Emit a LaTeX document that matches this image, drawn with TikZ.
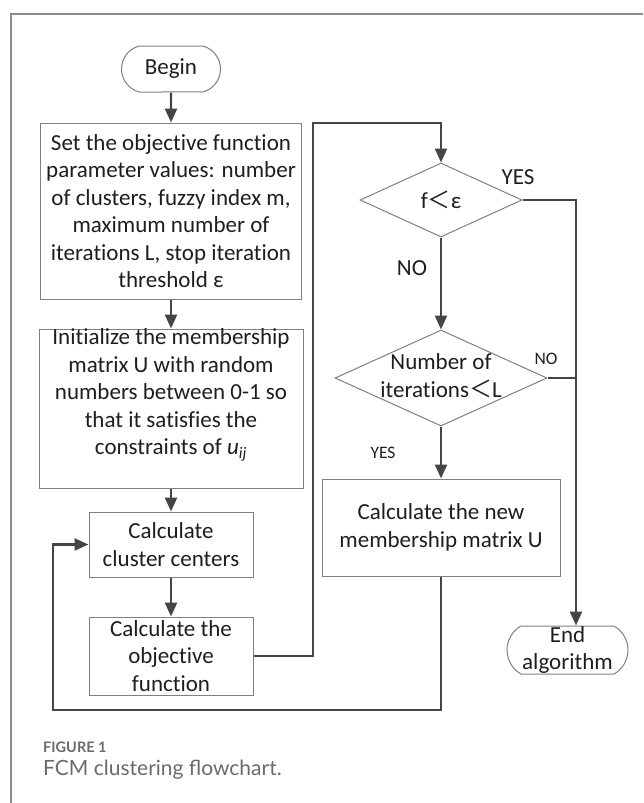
\documentclass[tikz,border=0pt]{standalone}
\usepackage{fontspec}
\setmainfont{Carlito}[Ligatures=NoCommon]
\newfontfamily\cjk{Noto Sans CJK SC}
\newfontfamily\capfont{Lato}
\usetikzlibrary{shapes.geometric,shapes.misc,arrows.meta,calc}

\definecolor{boxgrey}{HTML}{7F7F7F}
\definecolor{conngrey}{HTML}{454545}
\definecolor{framegrey}{HTML}{8C8C8C}
\definecolor{inkblack}{HTML}{1E1E1E}
\definecolor{capgrey}{HTML}{6A6A6A}

\begin{document}
\begin{tikzpicture}[x=1pt,y=-1pt,
  bodytext/.style={font=\fontsize{23}{27.5}\selectfont, text=inkblack, align=center, inner sep=0pt},
  box/.style={bodytext, draw=boxgrey, line width=1pt, rectangle},
  terminal/.style={bodytext, draw=boxgrey, line width=1pt, rounded rectangle},
  decision/.style={draw=boxgrey, line width=1pt, diamond, inner sep=0pt},
  conn/.style={draw=conngrey, line width=2.4pt},
  arr/.style={conn, -{Triangle[length=14pt,width=12pt]}},
  biglabel/.style={font=\fontsize{23}{27}\selectfont, text=inkblack, inner sep=0pt},
  smalllabel/.style={font=\fontsize{17.5}{21}\selectfont, text=inkblack, inner sep=0pt}
]
\useasboundingbox (0,0) rectangle (643,803);

% panel frame
\draw[framegrey, line width=1.5pt] (11,803) -- (11,14) -- (643,14);

% left column
\node[terminal, rounded rectangle arc length=150, minimum width=99pt, minimum height=46pt] (begin) at (171,69) {Begin};
\node[box, minimum width=261pt, minimum height=176pt] (setpar) at (171,211)
  {Set the objective function\\ parameter values: number\\ of clusters, fuzzy index m,\\ maximum number of\\ iterations L, stop iteration\\ threshold ε};
\node[box, minimum width=264pt, minimum height=159pt] (init) at (171,408.5) {};
\node[bodytext] (inittext) at (171,395)
  {Initialize the membership\\ matrix U with random\\ numbers between 0-1 so\\ that it satisfies the\\ constraints of {\itshape u}\textsubscript{\itshape ij}};
\node[box, minimum width=164pt, minimum height=65pt] (centers) at (171,544.5) {Calculate\\ cluster centers};
\node[box, minimum width=164pt, minimum height=78pt] (objfun) at (171,656) {};
\node[bodytext] (objtext) at (171,656) {Calculate the\\ objective\\ function};

% right column
\node[decision, minimum width=162pt, minimum height=74pt] (conv) at (441,200) {};
\node[bodytext] (convtext) at (441,200) {f{\cjk ＜}ε};
\node[decision, minimum width=212pt, minimum height=96pt] (iter) at (441,378) {};
\node[bodytext, font=\fontsize{23}{28}\selectfont] (itertext) at (441,376) {Number of\\ iterations{\cjk ＜}L};
\node[box, minimum width=238pt, minimum height=97pt] (update) at (441,527.5) {Calculate the new\\ membership matrix U};
\node[terminal, rounded rectangle arc length=120, minimum width=121pt, minimum height=48pt] (finish) at (567.5,650) {};
\node[bodytext] (finishtext) at (567.5,650) {End\\ algorithm};

% connector waypoints
\coordinate (upturn) at (313,123);
\coordinate (loopcorner) at (53,710);
\coordinate (endin) at ($(finish.north)+(8.5,0)$);

% main flow
\draw[arr] (begin) -- (setpar);
\draw[arr] (setpar) -- (init);
\draw[arr] (init) -- (centers);
\draw[arr] (centers) -- (objfun);
\draw[arr] (objfun.east) -| (upturn) -| (conv.north);
\draw[arr] (conv.south) -- (iter.north);
\draw[arr] (iter.south) -- (update.north);
\draw[arr] (update.south) |- (loopcorner) |- (centers.west);
\draw[arr] (conv.east) -| (endin);
\draw[conn] (iter.east) -- (iter.east -| endin);

% branch labels
\node[biglabel] (yesconv) at (518,177) {YES};
\node[biglabel] (noconv) at (412,268) {NO};
\node[smalllabel] (noiter) at (546,359) {NO};
\node[smalllabel] (yesiter) at (383,453) {YES};

% caption
\node[anchor=west, inner sep=0pt, text=capgrey, font=\capfont\bfseries\fontsize{14.5}{17}\selectfont] (figlabel) at (43,747) {FIGURE 1};
\node[anchor=west, inner sep=0pt, text=capgrey, font=\capfont\fontsize{21}{25}\selectfont] (figcaption) at (43,770) {FCM clustering flowchart.};
\end{tikzpicture}
\end{document}
